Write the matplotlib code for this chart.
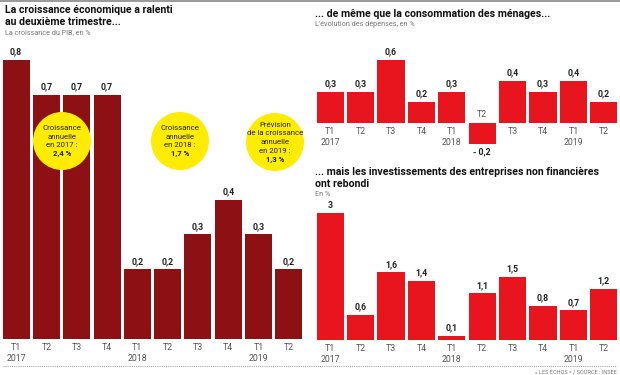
import matplotlib
matplotlib.use("Agg")
import matplotlib.pyplot as plt
from matplotlib.patches import Ellipse
from matplotlib.lines import Line2D

plt.rcParams['font.family'] = ['Roboto', 'DejaVu Sans']

quarters = ["T1", "T2", "T3", "T4", "T1", "T2", "T3", "T4", "T1", "T2"]
years = ["2017", "", "", "", "2018", "", "", "", "2019", ""]
pib = [0.8, 0.7, 0.7, 0.7, 0.2, 0.2, 0.3, 0.4, 0.3, 0.2]
conso = [0.3, 0.3, 0.6, 0.2, 0.3, -0.2, 0.4, 0.3, 0.4, 0.2]
invest = [3, 0.6, 1.6, 1.4, 0.1, 1.1, 1.5, 0.8, 0.7, 1.2]

DARK = "#8C1014"
RED = "#E8151F"
YELLOW = "#FFEC00"
GRAY = "#555555"

W, H = 620, 375
fig = plt.figure(figsize=(6.2, 3.75), dpi=100)

def fx(px):
    return px / W

def fy(py):
    return 1 - py / H

def add_panel(x0, x1, ytop, ybot, ylim, values, color):
    ax = fig.add_axes([fx(x0), fy(ybot), fx(x1 - x0), (ybot - ytop) / H])
    xs = list(range(len(values)))
    ax.bar(xs, values, width=0.89, color=color)
    ax.set_xlim(-0.5, len(values) - 0.5)
    ax.set_ylim(*ylim)
    ax.axis("off")
    for x, v, q, yr in zip(xs, values, quarters, years):
        lab = f"{v:.1f}".replace(".", ",") if v != int(v) or v < 1 else f"{int(v)}"
        if v >= 0:
            ax.annotate(lab, (x, v), xytext=(0, 2.5), textcoords="offset points",
                        ha="center", va="bottom", fontsize=6.3, fontweight="bold",
                        color="#222222")
            ax.annotate(q, (x, 0), xytext=(0, -3), textcoords="offset points",
                        ha="center", va="top", fontsize=6.3, color=GRAY)
            if yr:
                ax.annotate(yr, (x, 0), xytext=(0, -10.5), textcoords="offset points",
                            ha="center", va="top", fontsize=6.3, color=GRAY)
        else:
            lab = "- " + f"{abs(v):.1f}".replace(".", ",")
            ax.annotate(lab, (x, v), xytext=(0, -2.5), textcoords="offset points",
                        ha="center", va="top", fontsize=6.3, fontweight="bold",
                        color="#222222")
            ax.annotate(q, (x, 0), xytext=(0, 3), textcoords="offset points",
                        ha="center", va="bottom", fontsize=6.3, color=GRAY)
    return ax

add_panel(1, 304, 60, 339, (0, 0.8), pib, DARK)
add_panel(315, 619, 60, 144, (-0.2, 0.6), conso, RED)
add_panel(315, 619, 213, 340, (0, 3), invest, RED)

TS = 7.6
SS = 5.2
# Titles
fig.text(fx(5), fy(10), "La croissance économique a ralenti", fontsize=TS,
         fontweight="bold", va="center", ha="left", color="#111111")
fig.text(fx(5), fy(22), "au deuxième trimestre...", fontsize=TS,
         fontweight="bold", va="center", ha="left", color="#111111")
fig.text(fx(5), fy(33), "La croissance du PIB, en %", fontsize=SS,
         va="center", ha="left", color="#777777")

fig.text(fx(315), fy(14), "... de même que la consommation des ménages...", fontsize=TS,
         fontweight="bold", va="center", ha="left", color="#111111")
fig.text(fx(315), fy(25), "L'évolution des dépenses, en %", fontsize=SS,
         va="center", ha="left", color="#777777")

fig.text(fx(315), fy(172), "... mais les investissements des entreprises non financières",
         fontsize=TS, fontweight="bold", va="center", ha="left", color="#111111")
fig.text(fx(315), fy(184), "ont rebondi", fontsize=TS,
         fontweight="bold", va="center", ha="left", color="#111111")
fig.text(fx(315), fy(194), "En %", fontsize=SS,
         va="center", ha="left", color="#777777")

# Yellow circles
circles = [
    (62, 141, ["Croissance", "annuelle", "en 2017 :"], "2,4 %"),
    (180, 141, ["Croissance", "annuelle", "en 2018 :"], "1,7 %"),
    (275, 142, ["Prévision", "de la croissance", "annuelle", "en 2019 :"], "1,3 %"),
]
r = 29
for cx, cy, lines, bold in circles:
    fig.add_artist(Ellipse((fx(cx), fy(cy)), 2 * r / W, 2 * r / H,
                           facecolor=YELLOW, edgecolor="none", zorder=5))
    all_lines = lines + [bold]
    n = len(all_lines)
    lh = 8.6
    start = cy - (n - 1) * lh / 2
    for i, t in enumerate(all_lines):
        fig.text(fx(cx), fy(start + i * lh), t, fontsize=5.6, ha="center", va="center",
                 color="#222222", fontweight="bold" if i == n - 1 else "normal", zorder=6)

# Top border & bottom dotted line
fig.add_artist(Line2D([0, 1], [fy(1), fy(1)], color="#888888", lw=1.2))
fig.add_artist(Line2D([fx(3), fx(617)], [fy(366), fy(366)], color="#999999",
                      lw=0.7, linestyle=(0, (1, 1.2))))
fig.text(fx(617), fy(372), "« LES ÉCHOS » / SOURCE : INSEE", fontsize=4, ha="right",
         va="center", color="#777777")

fig.savefig("out.png", dpi=100)
